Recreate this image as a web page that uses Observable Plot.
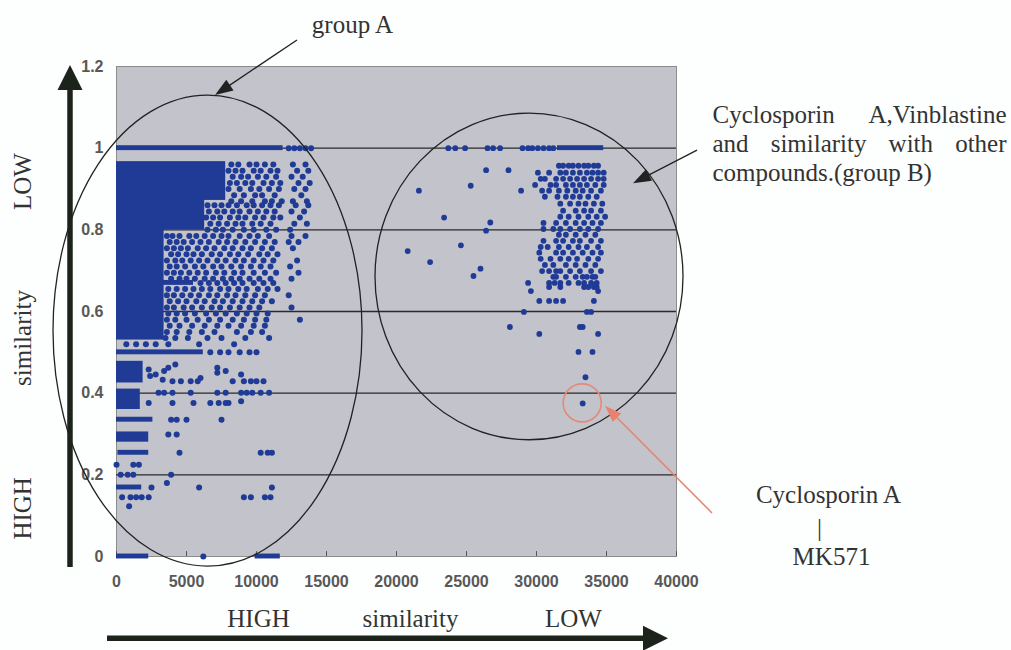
<!DOCTYPE html>
<html><head><meta charset="utf-8">
<script src="https://cdn.jsdelivr.net/npm/d3@7"></script>
<script src="https://cdn.jsdelivr.net/npm/@observablehq/plot@0.6"></script>
<style>body{margin:0;background:#fdfefe;}</style>
</head><body><div id="chart"></div>
<script>
// ---------- axes ----------
const xTicks = [0, 5000, 10000, 15000, 20000, 25000, 30000, 35000, 40000];
const yTicks = [0, 0.2, 0.4, 0.6, 0.8, 1, 1.2];
const gridLevels = [0.2, 0.4, 0.6, 0.8, 1.0];

// ---------- group A: saturated (overplotted) regions ----------
const groupABlocks = [
  {x1: 0, x2: 11900, y1: 0.994, y2: 1.006},
  {x1: 0, x2: 7800, y1: 0.872, y2: 0.967},
  {x1: 0, x2: 3400, y1: 0.53, y2: 0.88},
  {x1: 3300, x2: 6300, y1: 0.80, y2: 0.88},
  {x1: 3300, x2: 5500, y1: 0.664, y2: 0.676},
  {x1: 0, x2: 6200, y1: 0.494, y2: 0.506},
  {x1: 0, x2: 1900, y1: 0.425, y2: 0.478},
  {x1: 0, x2: 1700, y1: 0.36, y2: 0.41},
  {x1: 0, x2: 2600, y1: 0.329, y2: 0.341},
  {x1: 0, x2: 2300, y1: 0.28, y2: 0.305},
  {x1: 100, x2: 2300, y1: 0.248, y2: 0.26},
  {x1: 0, x2: 1800, y1: 0.163, y2: 0.175},
  {x1: 0, x2: 2300, y1: -0.006, y2: 0.006},
  {x1: 9900, x2: 11700, y1: -0.006, y2: 0.006}
];

// ---------- group A: individual points, by similarity row ----------
const groupARows = [
  {y: 1.0, x: [12300, 12700, 13100, 13500, 13900]},
  {y: 0.96, x: [8200, 8700, 9500, 10000, 10600, 11200, 12600, 13500]},
  {y: 0.945, x: [8000, 8500, 9000, 9800, 10300, 11000, 11500, 12900, 13700]},
  {y: 0.93, x: [8300, 8900, 9400, 10100, 10700, 11400, 12500, 13300]},
  {y: 0.915, x: [8100, 8600, 9200, 9700, 10500, 11100, 11700, 13000, 13800]},
  {y: 0.90, x: [8000, 8800, 9600, 10200, 10900, 11600, 12700, 13500]},
  {y: 0.885, x: [8400, 9100, 9900, 10400, 11300, 13200]},
  {y: 0.87, x: [8200, 8900, 9700, 10600, 11100, 11800, 12600, 13600]},
  {y: 0.86, x: [6500, 7000, 7500, 8000, 8600, 9300, 9800, 10400, 11000, 11600, 12800, 13700]},
  {y: 0.845, x: [6600, 7200, 7700, 8300, 8800, 9500, 10100, 10700, 11300, 12500, 13400]},
  {y: 0.83, x: [6400, 6900, 7400, 8100, 8700, 9200, 9900, 10500, 11200, 11700, 13100]},
  {y: 0.815, x: [6700, 7300, 7900, 8500, 9000, 9700, 10300, 11000, 12700, 13600]},
  {y: 0.80, x: [6500, 7100, 7600, 8300, 9100, 9800, 10700, 11400, 12400]},
  {y: 0.785, x: [3600, 4000, 4500, 5200, 5700, 6300, 6900, 7500, 8000, 8800, 9500, 10100, 10900, 12500, 13500]},
  {y: 0.77, x: [3800, 4300, 4800, 5400, 6000, 6600, 7300, 7900, 8500, 9200, 9900, 10600, 11300, 12300, 13000]},
  {y: 0.755, x: [3600, 4100, 4600, 5100, 5800, 6400, 7000, 7700, 8300, 9000, 9600, 10400, 11100, 12600]},
  {y: 0.74, x: [3900, 4400, 5000, 5500, 6100, 6800, 7400, 8100, 8700, 9400, 10200, 10800, 11500]},
  {y: 0.725, x: [3600, 4200, 4700, 5300, 5900, 6500, 7200, 7800, 8500, 9100, 9800, 10500, 11200, 12900]},
  {y: 0.71, x: [3800, 4300, 4900, 5600, 6200, 6900, 7500, 8200, 8900, 9600, 10300, 11000, 12400]},
  {y: 0.695, x: [3600, 4100, 4600, 5200, 5800, 6400, 7100, 7700, 8400, 9000, 9800, 10600, 11400, 13000]},
  {y: 0.68, x: [3900, 4500, 5000, 5600, 6300, 6900, 7600, 8200, 8800, 9500, 10200, 11000, 12500]},
  {y: 0.67, x: [6000, 6600, 7200, 7800, 8400, 9000, 9800, 10500, 11200]},
  {y: 0.655, x: [3700, 4300, 4900, 5500, 6100, 6700, 7400, 8000, 8700, 9300, 10100, 10800, 11500]},
  {y: 0.64, x: [3600, 4100, 4700, 5300, 5900, 6600, 7200, 7900, 8500, 9200, 9900, 10600, 12300]},
  {y: 0.625, x: [3800, 4400, 5000, 5700, 6300, 7000, 7600, 8300, 9000, 9700, 10400, 11100]},
  {y: 0.61, x: [3600, 4100, 4800, 5400, 6100, 6800, 7400, 8100, 8800, 9500, 10200, 12500]},
  {y: 0.595, x: [3700, 4300, 4900, 5600, 6400, 7100, 7800, 8600, 9300, 10000, 10800]},
  {y: 0.58, x: [3600, 4200, 5000, 5800, 6600, 7400, 8300, 9100, 9900, 10700, 13100]},
  {y: 0.565, x: [3800, 4500, 5400, 6300, 7200, 8000, 8900, 9800, 10600]},
  {y: 0.55, x: [3600, 4300, 5200, 6100, 7000, 8600, 9600, 10400]},
  {y: 0.535, x: [3500, 4200, 5100, 6500, 7500, 9200, 10900]},
  {y: 0.52, x: [700, 1400, 2100, 2800, 3700, 5900, 8400]},
  {y: 0.5, x: [6700, 7400, 8000, 8800, 9500, 10000]},
  {y: 0.470, x: [4200]},
  {y: 0.462, x: [3700, 7200]},
  {y: 0.458, x: [2300]},
  {y: 0.454, x: [3400, 7800]},
  {y: 0.450, x: [7200]},
  {y: 0.446, x: [2800, 8900]},
  {y: 0.442, x: [2400]},
  {y: 0.437, x: [6000]},
  {y: 0.433, x: [3300]},
  {y: 0.429, x: [4000, 4600, 5300, 5800, 8300, 9100, 9600, 10000, 10500]},
  {y: 0.401, x: [3000, 3400, 4000, 5300, 7200, 7800, 8900, 9300, 9700, 10300, 10900]},
  {y: 0.38, x: [8900]},
  {y: 0.376, x: [2300, 4000, 5500, 6700, 7300, 7800, 8000]},
  {y: 0.335, x: [3900, 4300, 5000, 7500]},
  {y: 0.299, x: [3700, 4300]},
  {y: 0.254, x: [4500, 10300, 10800, 11100]},
  {y: 0.225, x: [0, 1200, 1600]},
  {y: 0.200, x: [300, 800, 1200, 3900]},
  {y: 0.180, x: [3600]},
  {y: 0.169, x: [2500, 5900, 11100]},
  {y: 0.145, x: [400, 1000, 1400, 1800, 2300, 9100, 9600, 10600, 11000]},
  {y: 0.123, x: [900]},
  {y: 0, x: [6200]}
];

// ---------- group B ----------
const groupBBlocks = [
  {x1: 31500, x2: 34800, y1: 0.994, y2: 1.006}
];
const groupBRows = [
  {y: 1.0, x: [23700, 24200, 24900, 26500, 26900, 27400, 29000, 29400, 29700, 30100, 30500, 30900, 31200]},
  {y: 0.957, x: [31600, 31900, 32300, 32600, 33000, 33400, 33700, 34100, 34400]},
  {y: 0.940, x: [30100, 30900, 31700, 32100, 32600, 33100, 33600, 34000, 34400, 34800]},
  {y: 0.925, x: [30300, 30600, 31400, 31900, 32400, 32900, 33400, 33900, 34400, 34800]},
  {y: 0.910, x: [29900, 31000, 31400, 32100, 32600, 33100, 33600, 34200, 34800]},
  {y: 0.896, x: [30400, 30900, 31600, 32200, 32800, 33300, 33900, 34600]},
  {y: 0.881, x: [30600, 31500, 32100, 32600, 33100, 33700, 34300]},
  {y: 0.864, x: [31700, 32400, 33000, 33500, 34100, 34700]},
  {y: 0.847, x: [31900, 32800, 33400, 33900, 34600]},
  {y: 0.832, x: [31700, 32300, 33000, 33700, 34300, 34900]},
  {y: 0.817, x: [30500, 31400, 32100, 32800, 33400, 34000, 34600]},
  {y: 0.802, x: [30500, 31200, 31700, 32400, 33100, 33700, 34400]},
  {y: 0.788, x: [31600, 32100, 32800, 33500, 34200]},
  {y: 0.773, x: [30500, 31400, 31900, 32600, 33100, 33900, 34600]},
  {y: 0.758, x: [30300, 30800, 31600, 32300, 33000, 33600, 34400]},
  {y: 0.744, x: [30200, 31400, 31900, 32600, 33300, 34000, 34600]},
  {y: 0.729, x: [30300, 31000, 31700, 32300, 32900, 33700, 34400]},
  {y: 0.714, x: [30600, 31200, 32100, 32800, 33500, 34200]},
  {y: 0.699, x: [30400, 30900, 31400, 31700, 32400, 33100, 33900, 34600]},
  {y: 0.685, x: [31200, 31400, 32100, 32800, 33300, 33600, 34000, 34200]},
  {y: 0.670, x: [29400, 30900, 31300, 31700, 32300, 33000, 33400, 33900, 34300]},
  {y: 0.660, x: [30900, 31700, 33400, 33700, 34100, 34300]},
  {y: 0.650, x: [29600, 34400]},
  {y: 0.626, x: [30200, 30900, 31400, 31900, 34100]},
  {y: 0.599, x: [29100, 33600, 33900]},
  {y: 0.562, x: [28100, 33100, 33300]},
  {y: 0.545, x: [30200, 34400]},
  {y: 0.501, x: [33000, 34000]},
  {y: 0.439, x: [33500]},
  {y: 0.375, x: [33300]}
];
const groupBScatter = [
  {x: 26400, y: 0.946}, {x: 28000, y: 0.946}, {x: 21600, y: 0.896}, {x: 25300, y: 0.908},
  {x: 28900, y: 0.896}, {x: 23400, y: 0.830}, {x: 26700, y: 0.818}, {x: 26400, y: 0.798},
  {x: 20800, y: 0.748}, {x: 24600, y: 0.762}, {x: 22400, y: 0.721}, {x: 26000, y: 0.705},
  {x: 25500, y: 0.687}
];

// ---------- annotations (data coordinates) ----------
const highlighted = [{x: 33300, y: 0.375}]; // Cyclosporin A – MK571
const groupEllipses = [
  {cx: 6536, cy: 0.552, rx: 11036, ry: 0.5767},
  {cx: 29500, cy: 0.6847, rx: 11000, ry: 0.400}
];
const axisArrows = [
  {x1: -3286, y1: -0.027, x2: -3286, y2: 1.2025},
  {x1: -643, y1: -0.2012, x2: 39430, y2: -0.2012}
];
const noteArrows = [
  {x1: 12929, y1: 1.2638, x2: 7071, y2: 1.1288},
  {x1: 41500, y1: 0.9939, x2: 36929, y2: 0.9129}
];
const redArrows = [
  {x1: 42571, y1: 0.1055, x2: 34929, y2: 0.368}
];

const sideLabels = [
  {x: -6714, y: 0.918, text: "LOW"},
  {x: -6714, y: 0.535, text: "similarity"},
  {x: -6714, y: 0.118, text: "HIGH"}
];
const bottomLabels = [
  {x: 10143, y: -0.1521, text: "HIGH"},
  {x: 21000, y: -0.1521, text: "similarity"},
  {x: 32643, y: -0.1521, text: "LOW"}
];
const groupALabel = [{x: 16857, y: 1.3006, text: "group A"}];
const groupBLines = [
  {x: 42571, y: 1.0822, text: "Cyclosporin A,Vinblastine"},
  {x: 42571, y: 1.0110, text: "and similarity with other"},
  {x: 42571, y: 0.9399, text: "compounds.(group B)"}
];
const pairLabel = [
  {x: 50857, y: 0.1497, text: "Cyclosporin A"},
  {x: 50214, y: 0.0687, text: "|"},
  {x: 51071, y: 0.0, text: "MK571"}
];

const toPoints = rows => rows.flatMap(r => r.x.map(x => ({x, y: r.y})));
const pointsA = toPoints(groupARows);
const pointsB = toPoints(groupBRows).concat(groupBScatter);

const BLUE = "#1f3b96";

function drawArrow(g, X1, Y1, X2, Y2, w, hl, hw, color) {
  const dx = X2 - X1, dy = Y2 - Y1, L = Math.hypot(dx, dy), ux = dx / L, uy = dy / L;
  const bx = X2 - ux * hl, by = Y2 - uy * hl;
  g.append("line").attr("x1", X1).attr("y1", Y1).attr("x2", bx + ux).attr("y2", by + uy)
    .attr("stroke", color).attr("stroke-width", w);
  const px = -uy, py = ux;
  g.append("path")
    .attr("d", `M${X2},${Y2}L${bx + px * hw / 2},${by + py * hw / 2}L${bx - px * hw / 2},${by - py * hw / 2}Z`)
    .attr("fill", color);
}

const annotationMark = (index, scales) => {
  const sx = scales.x, sy = scales.y;
  const g = d3.create("svg:g");
  for (const e of groupEllipses) {
    g.append("ellipse").attr("cx", sx(e.cx)).attr("cy", sy(e.cy))
      .attr("rx", Math.abs(sx(e.cx + e.rx) - sx(e.cx))).attr("ry", Math.abs(sy(e.cy + e.ry) - sy(e.cy)))
      .attr("fill", "none").attr("stroke", "#222").attr("stroke-width", 1.3);
  }
  for (const h of highlighted) {
    g.append("circle").attr("cx", sx(h.x)).attr("cy", sy(h.y)).attr("r", 19)
      .attr("fill", "none").attr("stroke", "#e58a78").attr("stroke-width", 1.6);
  }
  for (const a of axisArrows) drawArrow(g, sx(a.x1), sy(a.y1), sx(a.x2), sy(a.y2), 5.5, 25, 25, "#1b231b");
  for (const a of noteArrows) drawArrow(g, sx(a.x1), sy(a.y1), sx(a.x2), sy(a.y2), 1.3, 18, 13, "#222");
  for (const a of redArrows) drawArrow(g, sx(a.x1), sy(a.y1), sx(a.x2), sy(a.y2), 1.5, 17, 12, "#e8826e");
  return g.node();
};

const serif = {fontFamily: "Liberation Serif, Times New Roman, serif", fontSize: 25, fill: "#333"};

const chart = Plot.plot({
  width: 1011,
  height: 650,
  marginLeft: 116,
  marginRight: 335,
  marginTop: 66,
  marginBottom: 94,
  x: {domain: [0, 40000]},
  y: {domain: [0, 1.2]},
  style: {background: "transparent", fontFamily: "Liberation Sans, Arial, sans-serif", overflow: "visible"},
  marks: [
    Plot.frame({fill: "#c3c3cb", stroke: "#8c8c8c"}),
    Plot.ruleY(gridLevels, {stroke: "#2a2a2a", strokeWidth: 1.3}),
    Plot.ruleX(xTicks, {y1: 0, y2: 0.012, stroke: "#555"}),
    Plot.rect(groupABlocks, {x1: "x1", x2: "x2", y1: "y1", y2: "y2", fill: BLUE, inset: 0}),
    Plot.rect(groupBBlocks, {x1: "x1", x2: "x2", y1: "y1", y2: "y2", fill: BLUE, inset: 0}),
    Plot.dot(pointsA, {x: "x", y: "y", r: 3, fill: BLUE}),
    Plot.dot(pointsB, {x: "x", y: "y", r: 2.9, fill: BLUE}),
    Plot.axisX({ticks: xTicks, tickSize: 0, tickPadding: 19, tickFormat: d3.format("d"),
      fontSize: 16, fontWeight: "bold", fill: "#585858", label: null}),
    Plot.axisY({ticks: yTicks, tickSize: 0, tickPadding: 13,
      tickFormat: d => d === 0 ? "0" : d === 1 ? "1" : d.toFixed(1),
      fontSize: 16, fontWeight: "bold", fill: "#585858", label: null}),
    annotationMark,
    Plot.text(sideLabels, {x: "x", y: "y", text: "text", rotate: -90, ...serif}),
    Plot.text(bottomLabels, {x: "x", y: "y", text: "text", ...serif}),
    Plot.text(groupALabel, {x: "x", y: "y", text: "text", ...serif}),
    Plot.text(groupBLines, {x: "x", y: "y", text: "text", textAnchor: "start", ...serif}),
    Plot.text(pairLabel, {x: "x", y: "y", text: "text", ...serif})
  ]
});

document.getElementById("chart").appendChild(chart);

// justify the first two lines of the group B note (extra space between words only)
const justified = [groupBLines[0].text, groupBLines[1].text];
d3.select(chart).selectAll("text")
  .filter(function () { return justified.includes(this.textContent); })
  .each(function () {
    const len = this.getComputedTextLength();
    const gaps = (this.textContent.match(/ /g) || []).length;
    if (gaps > 0 && len < 294) this.style.wordSpacing = ((294 - len) / gaps) + "px";
  });
</script>
</body></html>
